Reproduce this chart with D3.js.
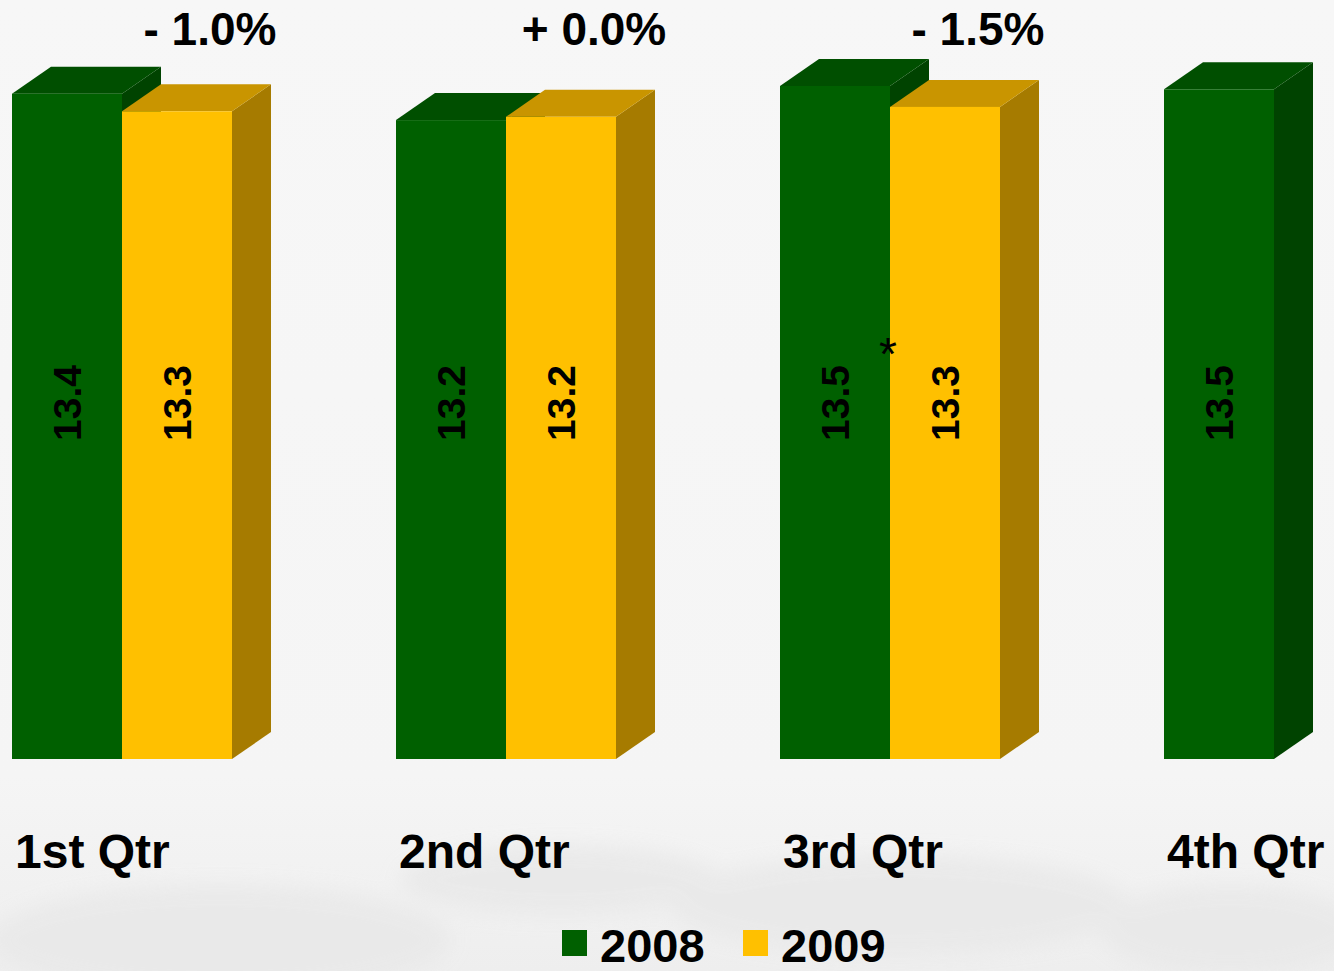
<!DOCTYPE html>
<html>
<head>
<meta charset="utf-8">
<script src="https://cdn.jsdelivr.net/npm/d3@7"></script>
<style>
  html, body { margin: 0; padding: 0; background: #f6f6f6; }
  svg { display: block; font-family: "Liberation Sans", Arial, sans-serif; }
</style>
</head>
<body>
<script>
// chart data
var quarters = ["1st Qtr", "2nd Qtr", "3rd Qtr", "4th Qtr"];
var years = ["2008", "2009"];
var values2008 = [13.43, 13.19, 13.50, 13.47];
var values2009 = [13.27, 13.22, 13.31, null];
var changeLabels = ["- 1.0%", "+ 0.0%", "- 1.5%", ""];
var noteMarks = ["", "", "*", ""];

var width = 1334, height = 971;
var depthX = 39, depthY = 27;

var colors = {
  "2008": { front: "#006000", top: "#004f00", side: "#004300" },
  "2009": { front: "#ffc000", top: "#c99500", side: "#a67b00" }
};

var svg = d3.select("body").append("svg")
  .attr("width", width)
  .attr("height", height);

// background: light grey, a bit darker and blotchy at the bottom
var defs = svg.append("defs");
var grad = defs.append("linearGradient")
  .attr("id", "bg").attr("x1", 0).attr("y1", 0).attr("x2", 0).attr("y2", 1);
grad.append("stop").attr("offset", "0%").attr("stop-color", "#f7f7f7");
grad.append("stop").attr("offset", "80%").attr("stop-color", "#f5f5f5");
grad.append("stop").attr("offset", "100%").attr("stop-color", "#eeeeee");
var blur = defs.append("filter").attr("id", "soft")
  .attr("x", "-20%").attr("y", "-20%").attr("width", "140%").attr("height", "140%");
blur.append("feGaussianBlur").attr("stdDeviation", 10);

svg.append("rect").attr("width", width).attr("height", height).attr("fill", "url(#bg)");

var bgShapes = svg.append("g").attr("filter", "url(#soft)").attr("fill", "#e8e8e8").attr("opacity", 0.8);
bgShapes.append("ellipse").attr("cx", 220).attr("cy", 940).attr("rx", 230).attr("ry", 55);
bgShapes.append("ellipse").attr("cx", 560).attr("cy", 880).attr("rx", 160).attr("ry", 35);
bgShapes.append("ellipse").attr("cx", 900).attr("cy", 905).attr("rx", 230).attr("ry", 50);
bgShapes.append("ellipse").attr("cx", 1230).attr("cy", 930).attr("rx", 130).attr("ry", 45);

// scales
var x0 = d3.scaleBand()
  .domain(quarters)
  .range([12, 1384])
  .paddingInner(164 / 384)
  .paddingOuter(0);

var x1 = d3.scaleBand()
  .domain(years)
  .range([0, x0.bandwidth()]);

var y = d3.scaleLinear()
  .domain([7.38, 13.5])
  .range([759, 86]);

var bars = [];
quarters.forEach(function(q, i) {
  if (values2008[i] != null) bars.push({ q: q, year: "2008", value: values2008[i] });
  if (values2009[i] != null) bars.push({ q: q, year: "2009", value: values2009[i] });
});

var g = svg.append("g");

var bar = g.selectAll(".bar")
  .data(bars)
  .enter()
  .append("g")
  .attr("class", "bar");

function poly(pts) { return "M" + pts.map(function(p) { return p.join(","); }).join("L") + "Z"; }

bar.each(function(d) {
  var sel = d3.select(this);
  var xl = x0(d.q) + x1(d.year);
  var xr = xl + x1.bandwidth();
  var yt = y(d.value);
  var yb = y.range()[0];
  var c = colors[d.year];

  // side face
  sel.append("path")
    .attr("d", poly([[xr, yt], [xr + depthX, yt - depthY], [xr + depthX, yb - depthY], [xr, yb]]))
    .attr("fill", c.side);
  // top face
  sel.append("path")
    .attr("d", poly([[xl, yt], [xl + depthX, yt - depthY], [xr + depthX, yt - depthY], [xr, yt]]))
    .attr("fill", c.top);
  // front face
  sel.append("rect")
    .attr("x", xl).attr("y", yt)
    .attr("width", x1.bandwidth()).attr("height", yb - yt)
    .attr("fill", c.front);

  // value label
  sel.append("text")
    .attr("transform", "translate(" + (xl + x1.bandwidth() / 2) + ",403) rotate(-90)")
    .attr("text-anchor", "middle")
    .attr("dominant-baseline", "central")
    .attr("font-size", 39)
    .attr("font-weight", "bold")
    .attr("fill", "#000")
    .text(d.value.toFixed(1));
});

// change labels above each group
svg.selectAll(".change")
  .data(quarters)
  .enter()
  .append("text")
  .attr("class", "change")
  .attr("x", function(q) { return x0(q) + 198; })
  .attr("y", 45)
  .attr("text-anchor", "middle")
  .attr("font-size", 46)
  .attr("font-weight", "bold")
  .attr("fill", "#000")
  .text(function(q, i) { return changeLabels[i]; });

// note mark (asterisk)
svg.selectAll(".note")
  .data(quarters)
  .enter()
  .append("text")
  .attr("class", "note")
  .attr("x", function(q) { return x0(q) + x1("2009") - 2; })
  .attr("y", 370)
  .attr("text-anchor", "middle")
  .attr("font-size", 46)
  .attr("fill", "#000")
  .text(function(q, i) { return noteMarks[i]; });

// category labels
svg.selectAll(".cat")
  .data(quarters)
  .enter()
  .append("text")
  .attr("class", "cat")
  .attr("x", function(q) { return x0(q) + 3; })
  .attr("y", 868)
  .attr("font-size", 48)
  .attr("font-weight", "bold")
  .attr("fill", "#000")
  .text(function(q) { return q; });

// legend
var legend = svg.append("g");
var legendX = [562, 743];
years.forEach(function(yr, i) {
  legend.append("rect")
    .attr("x", legendX[i]).attr("y", 930)
    .attr("width", 25).attr("height", 26)
    .attr("fill", colors[yr].front);
  legend.append("text")
    .attr("x", legendX[i] + 38).attr("y", 962)
    .attr("font-size", 47)
    .attr("font-weight", "bold")
    .attr("fill", "#000")
    .text(yr);
});
</script>
</body>
</html>
